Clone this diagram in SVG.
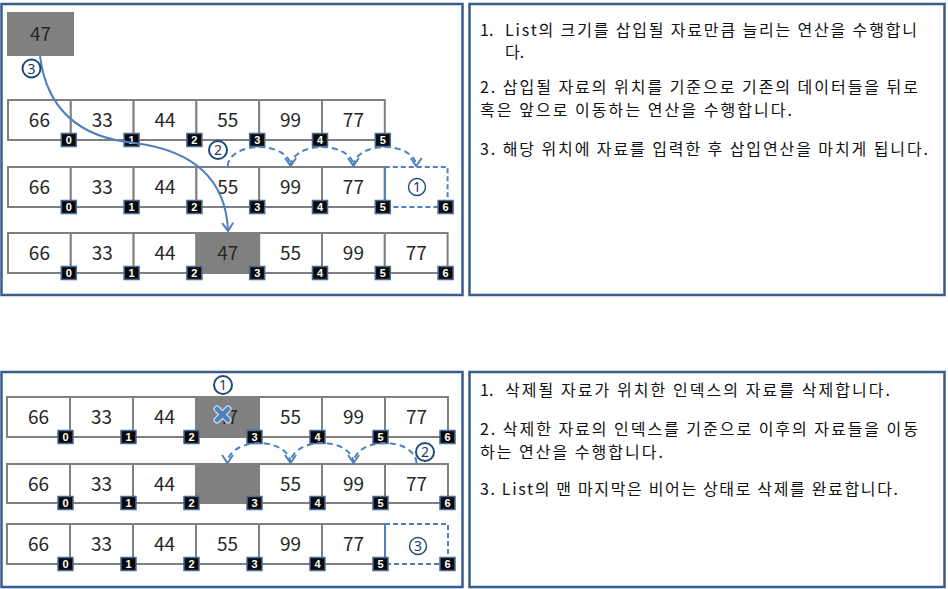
<svg xmlns="http://www.w3.org/2000/svg" width="948" height="589" viewBox="0 0 948 589">
<style>
.panel{fill:#fff;stroke:#385d8a;stroke-width:2.5}
.c{fill:#fff;stroke:#808080;stroke-width:2}
.g{fill:#808080;stroke:#808080;stroke-width:2}
.n{font-family:"Noto Sans CJK KR","Liberation Sans",sans-serif;font-size:19px;fill:#262626;text-anchor:middle}
.b{fill:#0a0a0a;stroke:#4a6a98;stroke-width:1.5}
.bt{font-family:"Liberation Sans",sans-serif;font-weight:bold;font-size:11px;fill:#fff;text-anchor:middle}
.dl{fill:none;stroke:#4f81bd;stroke-width:2;stroke-dasharray:5 3}
.sl{fill:none;stroke:#4f81bd;stroke-width:2}
.arc{fill:none;stroke:#4f81bd;stroke-width:2;stroke-dasharray:6 4;marker-end:url(#ah)}
.cur{fill:none;stroke:#4f81bd;stroke-width:2;marker-end:url(#ah)}
.co{fill:#fff;stroke:#1f497d;stroke-width:2}
.ci{fill:none;stroke:#1f497d;stroke-width:1.4}
.ct{font-family:"Noto Sans","Liberation Sans",sans-serif;font-size:14px;fill:#1f3864;text-anchor:middle}
.tx{font-family:"Noto Sans CJK KR","Liberation Sans",sans-serif;font-size:16px;fill:#111}
</style>
<defs>
<marker id="ah" markerUnits="userSpaceOnUse" viewBox="-10 -8 12 16" refX="0" refY="0" markerWidth="12" markerHeight="16" orient="auto">
<path d="M-8,-5.5 L0,0 L-8,5.5" fill="none" stroke="#4f81bd" stroke-width="2" stroke-dasharray="none"/>
</marker>
</defs>

<g id="panel-insert"><rect class="panel" x="1.5" y="4" width="461" height="291"/></g>
<g id="panel-insert-text">
<rect class="panel" x="469.5" y="4" width="475" height="291"/>
<text class="tx" x="480" y="36">1.</text>
<text class="tx" x="505" y="36" textLength="412" lengthAdjust="spacing">List의 크기를 삽입될 자료만큼 늘리는 연산을 수행합니</text>
<text class="tx" x="505" y="58">다.</text>
<text class="tx" x="480" y="93" textLength="438" lengthAdjust="spacing">2. 삽입될 자료의 위치를 기준으로 기존의 데이터들을 뒤로</text>
<text class="tx" x="480" y="116" textLength="312" lengthAdjust="spacing">혹은 앞으로 이동하는 연산을 수행합니다.</text>
<text class="tx" x="480" y="155" textLength="448" lengthAdjust="spacing">3. 해당 위치에 자료를 입력한 후 삽입연산을 마치게 됩니다.</text>
</g>
<g id="panel-delete"><rect class="panel" x="1.5" y="372" width="461" height="215"/></g>
<g id="panel-delete-text">
<rect class="panel" x="469.5" y="372" width="475" height="215"/>
<text class="tx" x="480" y="396">1.</text>
<text class="tx" x="505" y="396" textLength="385" lengthAdjust="spacing">삭제될 자료가 위치한 인덱스의 자료를 삭제합니다.</text>
<text class="tx" x="480" y="435" textLength="438" lengthAdjust="spacing">2. 삭제한 자료의 인덱스를 기준으로 이후의 자료들을 이동</text>
<text class="tx" x="480" y="458" textLength="183" lengthAdjust="spacing">하는 연산을 수행합니다.</text>
<text class="tx" x="480" y="495" textLength="418" lengthAdjust="spacing">3. List의 맨 마지막은 비어는 상태로 삭제를 완료합니다.</text>
</g>

<g id="new-item">
<rect class="g" x="8" y="13" width="65" height="42"/>
<text class="n" x="40.5" y="41">47</text>
</g>

<g id="insert-row1">
<rect class="c" x="8" y="100" width="62.8" height="40"/>
<rect class="c" x="70.8" y="100" width="62.8" height="40"/>
<rect class="c" x="133.6" y="100" width="62.8" height="40"/>
<rect class="c" x="196.4" y="100" width="62.8" height="40"/>
<rect class="c" x="259.2" y="100" width="62.8" height="40"/>
<rect class="c" x="322" y="100" width="62.8" height="40"/>
<text class="n" x="39.4" y="127">66</text>
<text class="n" x="102.2" y="127">33</text>
<text class="n" x="165" y="127">44</text>
<text class="n" x="227.8" y="127">55</text>
<text class="n" x="290.6" y="127">99</text>
<text class="n" x="353.4" y="127">77</text>
<rect class="b" x="61.3" y="133.5" width="15" height="13"/><text class="bt" x="68.8" y="144">0</text>
<rect class="b" x="124.1" y="133.5" width="15" height="13"/><text class="bt" x="131.6" y="144">1</text>
<rect class="b" x="186.9" y="133.5" width="15" height="13"/><text class="bt" x="194.4" y="144">2</text>
<rect class="b" x="249.7" y="133.5" width="15" height="13"/><text class="bt" x="257.2" y="144">3</text>
<rect class="b" x="312.5" y="133.5" width="15" height="13"/><text class="bt" x="320" y="144">4</text>
<rect class="b" x="375.3" y="133.5" width="15" height="13"/><text class="bt" x="382.8" y="144">5</text>
</g>

<g id="insert-row2">
<rect class="c" x="8" y="167" width="62.8" height="40"/>
<rect class="c" x="70.8" y="167" width="62.8" height="40"/>
<rect class="c" x="133.6" y="167" width="62.8" height="40"/>
<rect class="c" x="196.4" y="167" width="62.8" height="40"/>
<rect class="c" x="259.2" y="167" width="62.8" height="40"/>
<rect class="c" x="322" y="167" width="62.8" height="40"/>
<path class="dl" d="M384.8,167 H447.6 V207 H384.8"/>
<path class="sl" d="M384.8,167 V207"/>
<text class="n" x="39.4" y="194">66</text>
<text class="n" x="102.2" y="194">33</text>
<text class="n" x="165" y="194">44</text>
<text class="n" x="227.8" y="194">55</text>
<text class="n" x="290.6" y="194">99</text>
<text class="n" x="353.4" y="194">77</text>
<circle class="ci" cx="417" cy="187" r="8.5"/><text class="ct" x="417" y="192">1</text>
<rect class="b" x="61.3" y="200.5" width="15" height="13"/><text class="bt" x="68.8" y="211">0</text>
<rect class="b" x="124.1" y="200.5" width="15" height="13"/><text class="bt" x="131.6" y="211">1</text>
<rect class="b" x="186.9" y="200.5" width="15" height="13"/><text class="bt" x="194.4" y="211">2</text>
<rect class="b" x="249.7" y="200.5" width="15" height="13"/><text class="bt" x="257.2" y="211">3</text>
<rect class="b" x="312.5" y="200.5" width="15" height="13"/><text class="bt" x="320" y="211">4</text>
<rect class="b" x="375.3" y="200.5" width="15" height="13"/><text class="bt" x="382.8" y="211">5</text>
<rect class="b" x="438.1" y="200.5" width="15" height="13"/><text class="bt" x="445.6" y="211">6</text>
</g>

<g id="insert-row3">
<rect class="c" x="8" y="233" width="62.8" height="40"/>
<rect class="c" x="70.8" y="233" width="62.8" height="40"/>
<rect class="c" x="133.6" y="233" width="62.8" height="40"/>
<rect class="g" x="196.4" y="233" width="62.8" height="40"/>
<rect class="c" x="259.2" y="233" width="62.8" height="40"/>
<rect class="c" x="322" y="233" width="62.8" height="40"/>
<rect class="c" x="384.8" y="233" width="62.8" height="40"/>
<text class="n" x="39.4" y="260">66</text>
<text class="n" x="102.2" y="260">33</text>
<text class="n" x="165" y="260">44</text>
<text class="n" x="227.8" y="260">47</text>
<text class="n" x="290.6" y="260">55</text>
<text class="n" x="353.4" y="260">99</text>
<text class="n" x="416.2" y="260">77</text>
<rect class="b" x="61.3" y="266.5" width="15" height="13"/><text class="bt" x="68.8" y="277">0</text>
<rect class="b" x="124.1" y="266.5" width="15" height="13"/><text class="bt" x="131.6" y="277">1</text>
<rect class="b" x="186.9" y="266.5" width="15" height="13"/><text class="bt" x="194.4" y="277">2</text>
<rect class="b" x="249.7" y="266.5" width="15" height="13"/><text class="bt" x="257.2" y="277">3</text>
<rect class="b" x="312.5" y="266.5" width="15" height="13"/><text class="bt" x="320" y="277">4</text>
<rect class="b" x="375.3" y="266.5" width="15" height="13"/><text class="bt" x="382.8" y="277">5</text>
<rect class="b" x="438.1" y="266.5" width="15" height="13"/><text class="bt" x="445.6" y="277">6</text>
</g>

<g id="delete-row1">
<rect class="c" x="7" y="397" width="63" height="40"/>
<rect class="c" x="70" y="397" width="63" height="40"/>
<rect class="c" x="133" y="397" width="63" height="40"/>
<rect class="g" x="196" y="397" width="63" height="40"/>
<rect class="c" x="259" y="397" width="63" height="40"/>
<rect class="c" x="322" y="397" width="63" height="40"/>
<rect class="c" x="385" y="397" width="63" height="40"/>
<text class="n" x="38.5" y="424">66</text>
<text class="n" x="101.5" y="424">33</text>
<text class="n" x="164.5" y="424">44</text>
<text class="n" x="227.5" y="424">47</text>
<text class="n" x="290.5" y="424">55</text>
<text class="n" x="353.5" y="424">99</text>
<text class="n" x="416.5" y="424">77</text>
<path d="M217,409 L228,420 M228,409 L217,420" stroke="#c6d9f1" stroke-width="7" stroke-linecap="round"/>
<path d="M217,409 L228,420 M228,409 L217,420" stroke="#4f81bd" stroke-width="4.5" stroke-linecap="round"/>
<rect class="b" x="58" y="430.5" width="15" height="13"/><text class="bt" x="65.5" y="441">0</text>
<rect class="b" x="121" y="430.5" width="15" height="13"/><text class="bt" x="128.5" y="441">1</text>
<rect class="b" x="184" y="430.5" width="15" height="13"/><text class="bt" x="191.5" y="441">2</text>
<rect class="b" x="247" y="430.5" width="15" height="13"/><text class="bt" x="254.5" y="441">3</text>
<rect class="b" x="310" y="430.5" width="15" height="13"/><text class="bt" x="317.5" y="441">4</text>
<rect class="b" x="373" y="430.5" width="15" height="13"/><text class="bt" x="380.5" y="441">5</text>
<rect class="b" x="440" y="430.5" width="15" height="13"/><text class="bt" x="447.5" y="441">6</text>
</g>

<g id="delete-row2">
<rect class="c" x="7" y="464" width="63" height="39"/>
<rect class="c" x="70" y="464" width="63" height="39"/>
<rect class="c" x="133" y="464" width="63" height="39"/>
<rect class="g" x="196" y="464" width="63" height="39"/>
<rect class="c" x="259" y="464" width="63" height="39"/>
<rect class="c" x="322" y="464" width="63" height="39"/>
<rect class="c" x="385" y="464" width="63" height="39"/>
<text class="n" x="38.5" y="490.5">66</text>
<text class="n" x="101.5" y="490.5">33</text>
<text class="n" x="164.5" y="490.5">44</text>
<text class="n" x="290.5" y="490.5">55</text>
<text class="n" x="353.5" y="490.5">99</text>
<text class="n" x="416.5" y="490.5">77</text>
<rect class="b" x="58" y="496.5" width="15" height="13"/><text class="bt" x="65.5" y="507">0</text>
<rect class="b" x="121" y="496.5" width="15" height="13"/><text class="bt" x="128.5" y="507">1</text>
<rect class="b" x="184" y="496.5" width="15" height="13"/><text class="bt" x="191.5" y="507">2</text>
<rect class="b" x="247" y="496.5" width="15" height="13"/><text class="bt" x="254.5" y="507">3</text>
<rect class="b" x="310" y="496.5" width="15" height="13"/><text class="bt" x="317.5" y="507">4</text>
<rect class="b" x="373" y="496.5" width="15" height="13"/><text class="bt" x="380.5" y="507">5</text>
<rect class="b" x="440" y="496.5" width="15" height="13"/><text class="bt" x="447.5" y="507">6</text>
</g>

<g id="delete-row3">
<rect class="c" x="7" y="524" width="63" height="40"/>
<rect class="c" x="70" y="524" width="63" height="40"/>
<rect class="c" x="133" y="524" width="63" height="40"/>
<rect class="c" x="196" y="524" width="63" height="40"/>
<rect class="c" x="259" y="524" width="63" height="40"/>
<rect class="c" x="322" y="524" width="63" height="40"/>
<path class="dl" d="M385,524 H448 V564 H385"/>
<path class="sl" d="M385,524 V564"/>
<text class="n" x="38.5" y="551">66</text>
<text class="n" x="101.5" y="551">33</text>
<text class="n" x="164.5" y="551">44</text>
<text class="n" x="227.5" y="551">55</text>
<text class="n" x="290.5" y="551">99</text>
<text class="n" x="353.5" y="551">77</text>
<circle class="ci" cx="418" cy="546" r="8.5"/><text class="ct" x="418" y="551">3</text>
<rect class="b" x="58" y="557.5" width="15" height="13"/><text class="bt" x="65.5" y="568">0</text>
<rect class="b" x="121" y="557.5" width="15" height="13"/><text class="bt" x="128.5" y="568">1</text>
<rect class="b" x="184" y="557.5" width="15" height="13"/><text class="bt" x="191.5" y="568">2</text>
<rect class="b" x="247" y="557.5" width="15" height="13"/><text class="bt" x="254.5" y="568">3</text>
<rect class="b" x="310" y="557.5" width="15" height="13"/><text class="bt" x="317.5" y="568">4</text>
<rect class="b" x="373" y="557.5" width="15" height="13"/><text class="bt" x="380.5" y="568">5</text>
<rect class="b" x="440" y="557.5" width="15" height="13"/><text class="bt" x="447.5" y="568">6</text>
</g>

<g id="connectors">
<path class="cur" d="M40,56 Q50,135 135,143 Q225,155 228,231"/>
<path class="arc" d="M227.8,166 A31.4,19 0 0 1 290.6,166"/>
<path class="arc" d="M290.6,166 A31.4,19 0 0 1 353.4,166"/>
<path class="arc" d="M353.4,166 A31.4,19 0 0 1 416.2,166"/>
<path class="arc" d="M416.5,463 A31.5,20 0 0 0 353.5,463"/>
<path class="arc" d="M353.5,463 A31.5,20 0 0 0 290.5,463"/>
<path class="arc" d="M290.5,463 A31.5,20 0 0 0 227.5,463"/>
</g>

<g id="step-labels">
<circle class="co" cx="31.5" cy="68.5" r="9"/><text class="ct" x="31.5" y="73.5">3</text>
<circle class="co" cx="218" cy="150" r="9"/><text class="ct" x="218" y="155">2</text>
<circle class="co" cx="223" cy="385" r="9"/><text class="ct" x="223" y="390">1</text>
<circle class="co" cx="425" cy="452" r="9"/><text class="ct" x="425" y="457">2</text>
</g>
</svg>
